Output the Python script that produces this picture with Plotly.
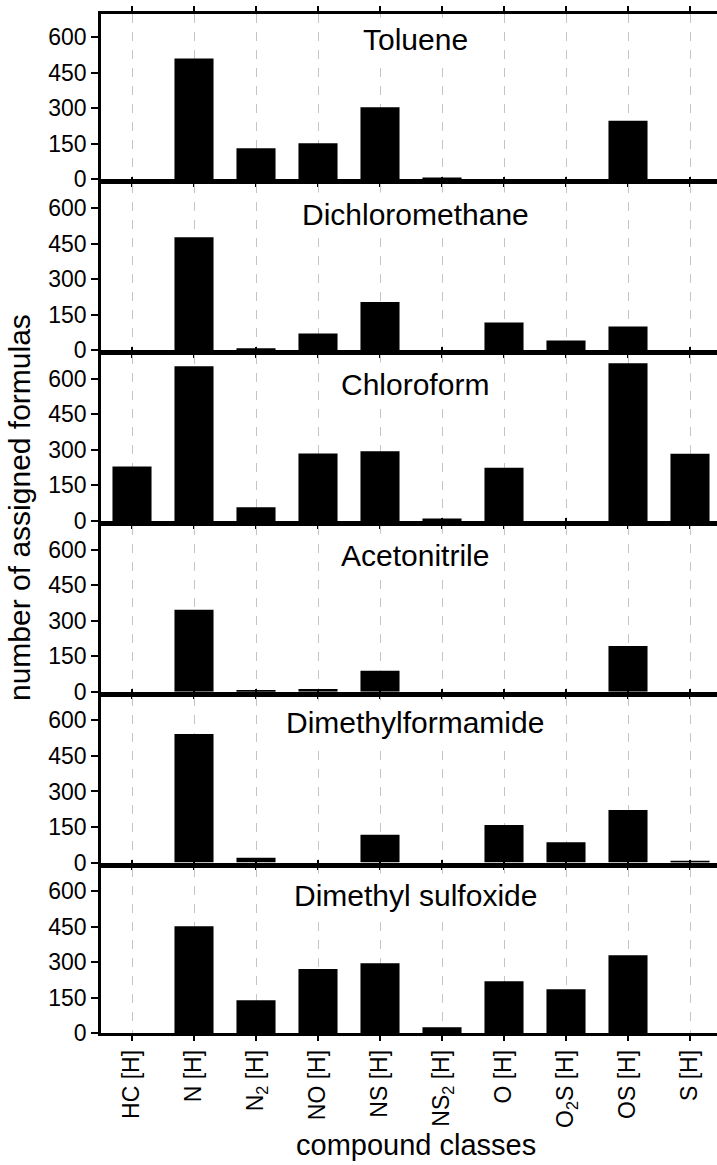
import plotly.graph_objects as go

# Compound classes on the shared x axis
categories = ["HC [H]", "N [H]", "N<sub>2</sub> [H]", "NO [H]", "NS [H]",
              "NS<sub>2</sub> [H]", "O [H]", "O<sub>2</sub>S [H]", "OS [H]", "S [H]"]

# Number of assigned formulas per solvent
solvents = ["Toluene", "Dichloromethane", "Chloroform", "Acetonitrile",
            "Dimethylformamide", "Dimethyl sulfoxide"]
toluene = [0, 510, 131, 152, 304, 8, 0, 0, 247, 0]
dichloromethane = [0, 476, 7, 70, 203, 0, 116, 41, 100, 0]
chloroform = [230, 653, 58, 285, 294, 10, 224, 0, 666, 283]
acetonitrile = [0, 346, 7, 11, 88, 0, 0, 0, 193, 0]
dimethylformamide = [0, 543, 20, 0, 117, 0, 158, 86, 222, 7]
dimethyl_sulfoxide = [0, 452, 139, 271, 295, 24, 219, 185, 329, 0]
series = [toluene, dichloromethane, chloroform, acetonitrile,
          dimethylformamide, dimethyl_sulfoxide]

y_ticks = [0, 150, 300, 450, 600]

FONT = "Liberation Sans, Arial, Helvetica, sans-serif"
W, H = 717, 1165
M_T, M_B, M_L, M_R = 13, 132, 101, 0
area_h = H - M_T - M_B
area_w = W - M_L - M_R

# panel geometry in pixels (zero line of each panel and panel height)
first_zero, step, panel_h = 179.3, 170.8, 165.8
title_mid_px = [39.0, 214.5, 384.0, 555.0, 722.5, 895.0]


def py(px):
    """pixel row -> paper y"""
    return 1 - (px - M_T) / area_h


def clamp(v):
    return min(1.0, max(0.0, v))


fig = go.Figure()
layout = dict(
    width=W, height=H,
    margin=dict(l=M_L, r=M_R, t=M_T, b=M_B),
    paper_bgcolor="white", plot_bgcolor="white",
    showlegend=False, bargap=0.37,
    font=dict(family=FONT, size=23, color="black"),
    annotations=[],
)

n = len(solvents)
for i, (name, vals) in enumerate(zip(solvents, series)):
    k = "" if i == 0 else str(i + 1)
    zero = first_zero + i * step
    dom = [clamp(py(zero)), clamp(py(zero - panel_h))]
    fig.add_trace(go.Bar(
        x=categories, y=vals, xaxis="x" + k, yaxis="y" + k,
        marker=dict(color="black", line=dict(width=0)),
        width=0.63,
    ))
    last = i == n - 1
    xa = dict(
        anchor="y" + k, domain=[0, 1],
        type="category", categoryorder="array", categoryarray=categories,
        range=[-0.5, -0.5 + area_w / 62.0],
        showline=True, linecolor="black", linewidth=2.5, mirror="ticks",
        ticks="outside", ticklen=5, tickwidth=1.5, tickcolor="black",
        showgrid=True, gridcolor="#c4c4c4", gridwidth=1, griddash="dash",
        showticklabels=last, tickangle=-90,
        tickfont=dict(family=FONT, size=23),
        zeroline=False,
    )
    if i > 0:
        xa["matches"] = "x"
    layout["xaxis" + k] = xa
    layout["yaxis" + k] = dict(
        anchor="x" + k, domain=dom, range=[0, 700],
        tickmode="array", tickvals=y_ticks,
        showline=True, linecolor="black", linewidth=2.5, mirror=False,
        ticks="outside", ticklen=7, tickwidth=1.5, tickcolor="black",
        showgrid=False, zeroline=False,
        tickfont=dict(family=FONT, size=23),
    )
    layout["annotations"].append(dict(
        text=name, xref="paper", yref="paper",
        x=(415 - M_L) / area_w, y=py(title_mid_px[i]),
        xanchor="center", yanchor="middle", showarrow=False,
        bgcolor="white", borderpad=5,
        font=dict(family=FONT, size=30, color="black"),
    ))

layout["annotations"].append(dict(
    text="number of assigned formulas", xref="paper", yref="paper",
    x=(19 - M_L) / area_w, y=py(508), textangle=-90,
    xanchor="center", yanchor="middle", showarrow=False,
    font=dict(family=FONT, size=30, color="black"),
))
layout["annotations"].append(dict(
    text="compound classes", xref="paper", yref="paper",
    x=(416 - M_L) / area_w, y=py(1145),
    xanchor="center", yanchor="middle", showarrow=False,
    font=dict(family=FONT, size=29, color="black"),
))

fig.update_layout(**layout)
fig.write_html("out.html")
